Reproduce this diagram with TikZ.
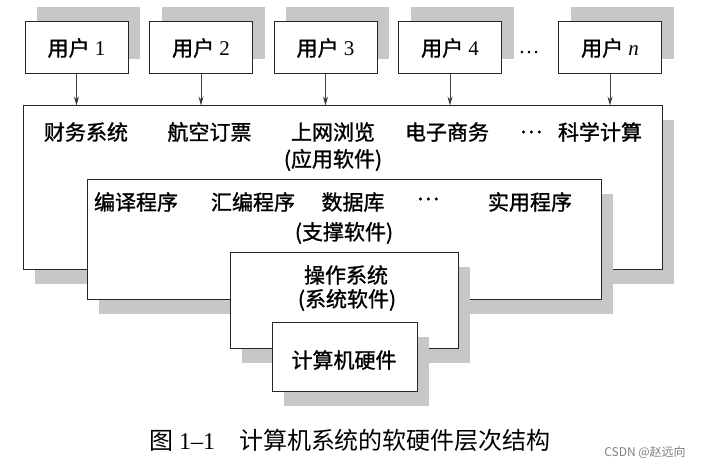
\documentclass[tikz,border=0pt]{standalone}
\usepackage{fontspec}
\setmainfont{Liberation Serif}
\newfontfamily\cjk[FakeBold=1.2]{Noto Sans CJK SC}
\newfontfamily\markfont{Noto Sans CJK SC}
\usetikzlibrary{positioning,arrows.meta,shadows}
\tikzset{
	layerbox/.style={draw=black!85,line width=1pt,fill=white,inner sep=0pt},
	shadowed/.style={drop shadow={shadow xshift=12pt,shadow yshift=-14pt,fill=black!22,opacity=1}},
	user/.style={layerbox,minimum width=103pt,minimum height=52pt,font=\fontsize{21}{25}\selectfont,
		drop shadow={shadow xshift=12pt,shadow yshift=15pt,fill=black!22,opacity=1}},
	txt/.style={font=\cjk\fontsize{21}{25}\selectfont,inner sep=0pt},
	flow/.style={-{Stealth[length=9pt,width=5pt]},draw=black!75,line width=0.8pt}
}
\begin{document}
\begin{tikzpicture}[x=1pt,y=-1pt]
	\useasboundingbox (0,0) rectangle (705,470);
	
	\node[user] (u1) at (76.5,48) {{\cjk 用户} 1};
	\node[user] (u2) [right=20.5pt of u1] {{\cjk 用户} 2};
	\node[user] (u3) [right=20.5pt of u2] {{\cjk 用户} 3};
	\node[user] (u4) [right=20.5pt of u3] {{\cjk 用户} 4};
	\node[user] (un) at (610,48) {{\cjk 用户} \textit{n}};
	\node[font=\fontsize{21}{25}\selectfont] (udots) at (529,53) {\ldots};
	
	\node[layerbox,shadowed,minimum width=639pt,minimum height=164pt] (app) at (342.5,188) {};
	\node[txt] (fin) at (86,132) {财务系统};
	\node[txt] (air) at (209.5,132) {航空订票};
	\node[txt] (web) at (333,132) {上网浏览};
	\node[txt] (ecom) at (447,132) {电子商务};
	\node[txt] (adots) at (531,132) {…};
	\node[txt] (sci) at (600,132) {科学计算};
	\node[txt] (appname) at (333,160) {(应用软件)};
	
	\node[layerbox,shadowed,minimum width=514pt,minimum height=120pt] (sup) at (344,240) {};
	\node[txt] (comp) at (136,202) {编译程序};
	\node[txt] (asm) at (253,202) {汇编程序};
	\node[txt] (db) at (353,202) {数据库};
	\node[txt] (sdots) at (428,199) {…};
	\node[txt] (util) at (530,202) {实用程序};
	\node[txt] (supname) at (344,233) {(支撑软件)};
	
	\node[layerbox,shadowed,minimum width=228pt,minimum height=96pt] (os) at (344,301) {};
	\node[txt] (osname) at (346,275) {操作系统};
	\node[txt] (ostype) at (347,300) {(系统软件)};
	
	\node[layerbox,shadowed,minimum width=145pt,minimum height=69pt] (hw) at (344.5,357.5) {};
	\node[txt] (hwname) at (344,360) {计算机硬件};
	
	\path[flow] (u1) edge (u1 |- app.north);
	\path[flow] (u2) edge (u2 |- app.north);
	\path[flow] (u3) edge (u3 |- app.north);
	\path[flow] (u4) edge (u4 |- app.north);
	\path[flow] (un) edge (un |- app.north);
	
	\node[font=\fontsize{24}{28}\selectfont] (cap) at (350,440) {{\markfont 图} 1--1\quad{\markfont 计算机系统的软硬件层次结构}};
	\node[font=\markfont\fontsize{12}{14}\selectfont,text=black!50] (mark) at (645,452) {CSDN @赵远向};
	
\end{tikzpicture}
\end{document}
